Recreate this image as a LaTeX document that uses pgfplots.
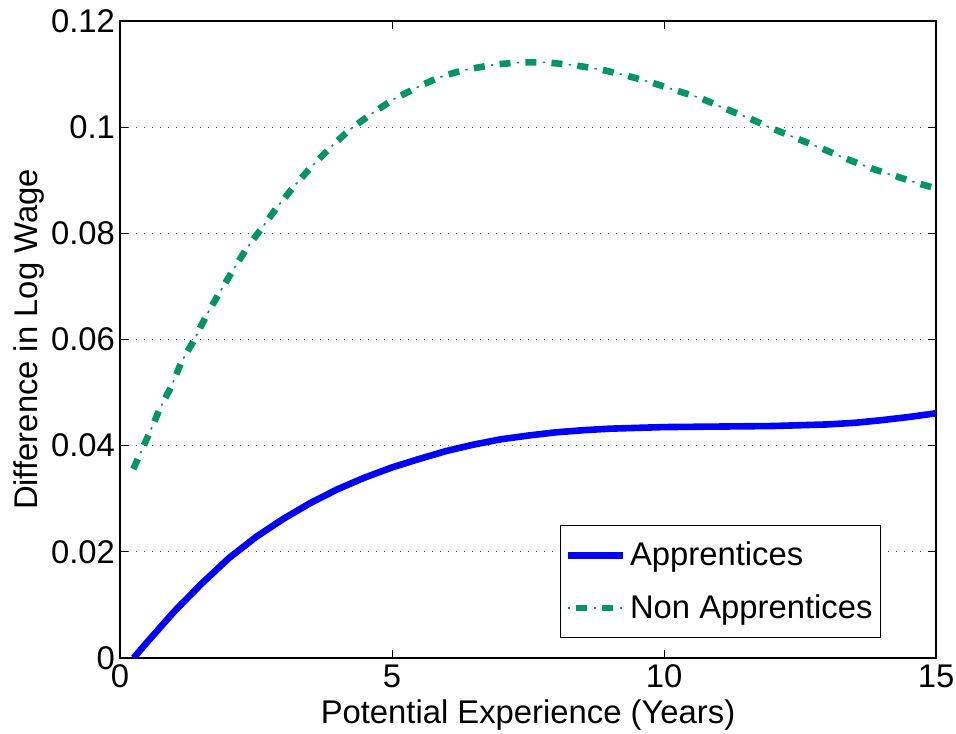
\documentclass[border=0pt]{standalone}
\usepackage{fontspec}
\setmainfont{Liberation Sans}
\usepackage{pgfplots}
\usepackage{pgfplotstable}
\pgfplotsset{compat=1.18}
\definecolor{mblue}{RGB}{0,0,255}
\definecolor{mgreen}{RGB}{0,150,100}
\pgfplotstableread{
x y
0.245 0.0356
0.55 0.0426
0.735 0.0470
0.95 0.0513
1.13 0.0558
1.38 0.0602
1.59 0.0646
1.84 0.0690
2.08 0.0731
2.33 0.0772
2.63 0.0813
2.9 0.0851
3.22 0.0891
3.55 0.0929
3.9 0.0965
4.23 0.0996
4.65 0.1027
5.02 0.1052
5.5 0.1077
5.85 0.1093
6.16 0.1103
6.4 0.1109
6.89 0.1118
7.35 0.1122
7.84 0.1122
8.33 0.1117
8.82 0.1109
9.28 0.1098
9.74 0.1085
10.23 0.1069
10.69 0.1054
11.12 0.1035
11.54 0.1018
12.0 0.0997
12.46 0.0978
12.92 0.0959
13.36 0.0940
13.82 0.0922
14.28 0.0907
14.74 0.0892
15.0 0.0885
}\nonapp
\pgfplotstableread{
x y
0.25 0.0000
0.5  0.0030
1.0  0.0088
1.5  0.0140
2.0  0.0188
2.5  0.0228
3.0  0.0262
3.5  0.0292
4.0  0.0318
4.5  0.0340
5.0  0.0359
5.5  0.0375
6.0  0.0390
6.5  0.0402
7.0  0.0412
7.5  0.0419
8.0  0.0425
8.5  0.0429
9.0  0.0432
10.0 0.0435
11.0 0.0436
12.0 0.0437
13.0 0.0440
13.5 0.0443
14.0 0.0448
14.5 0.0454
15.0 0.0461
}\app
\begin{document}
\begin{tikzpicture}
\begin{axis}[
  name=ax,
  scale only axis,
  width=408pt, height=318.5pt,
  xmin=0, xmax=15, ymin=0, ymax=0.12,
  xtick={0,5,10,15},
  ytick={0,0.02,0.04,0.06,0.08,0.1,0.12},
  yticklabels={0,0.02,0.04,0.06,0.08,0.1,0.12},
  scaled y ticks=false,
  /pgf/number format/assume math mode=true,
  tick align=inside,
  major tick length=4pt,
  tick style={black, line width=0.5pt},
  axis line style={black, line width=0.6pt},
  ymajorgrids,
  major grid style={black!65, line width=0.6pt, dash pattern=on 0.6pt off 3.4pt},
  font=\fontsize{16.4}{19.7}\selectfont,
  ticklabel style={font=\fontsize{16.4}{19.7}\selectfont},
  yticklabel style={xshift=1pt},
  xlabel={Potential Experience (Years)},
  ylabel={Difference in Log Wage},
  xlabel style={at={(axis description cs:0.5,0)}, anchor=base, yshift=-32.5pt},
  ylabel style={at={(axis description cs:-0.1017,0.5)}, anchor=base, rotate=0},
  legend style={at={(0.9326,0.0314)}, anchor=south east, draw=black, line width=0.5pt,
    fill=white, font=\fontsize{16.4}{19.7}\selectfont, row sep=9pt,
    inner xsep=2pt, inner ysep=6pt},
  legend cell align=left,
]
\addplot[mblue, line width=3.3pt, line join=round,
  legend image code/.code={\draw[mblue, line width=3.3pt] (0pt,0pt) -- (27.5pt,0pt);}] table[x=x,y=y] {\app};
\addlegendentry{Apprentices}
\addplot[mgreen, line width=3.3pt, dash pattern=on 5.5pt off 7.5pt,
  legend image code/.code={
    \draw[mgreen, line width=3.3pt, dash pattern=on 5.5pt off 7.5pt, dash phase=9pt] (0pt,0pt) -- (27.5pt,0pt);
    \draw[mgreen, line width=0.8pt, dash pattern=on 1.2pt off 11.8pt] (0pt,0pt) -- (27.5pt,0pt);
  }] table[x=x,y=y] {\nonapp};
\addlegendentry{Non Apprentices}
\addplot[mgreen, line width=0.8pt, dash pattern=on 1.2pt off 11.8pt, dash phase=4.35pt, forget plot] table[x=x,y=y] {\nonapp};
\end{axis}
\pgfresetboundingbox
\path[use as bounding box] ([xshift=-60pt,yshift=-37.5pt]ax.south west) rectangle ([xshift=10pt,yshift=10.5pt]ax.north east);
\end{tikzpicture}
\end{document}
